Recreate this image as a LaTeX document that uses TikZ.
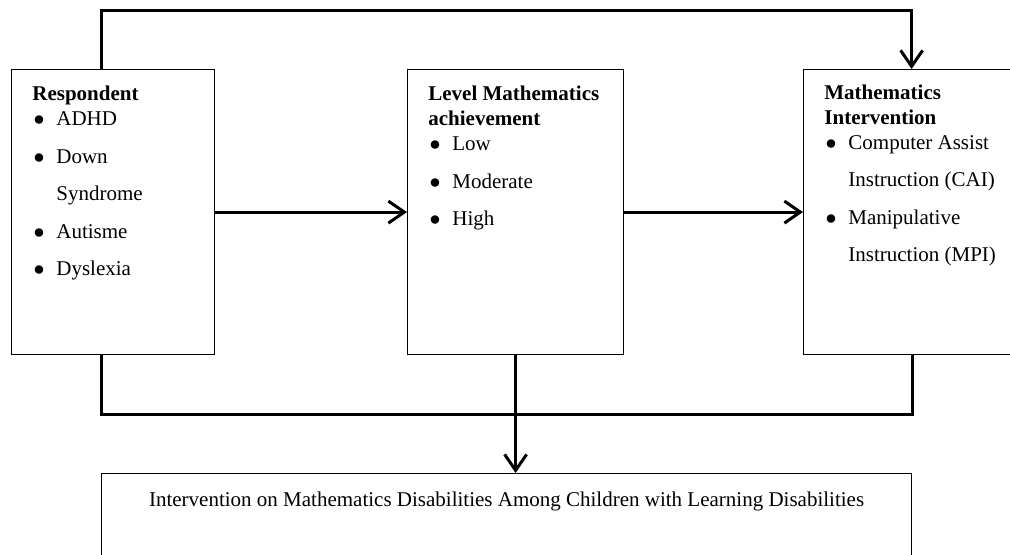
\documentclass[tikz,border=0pt]{standalone}
\usepackage{fontspec}
\setmainfont{Liberation Serif}
\usetikzlibrary{arrows.meta}
\newcommand{\bul}{\makebox[12pt][l]{\hspace{0.6pt}$\bullet$}}

\begin{document}
\begin{tikzpicture}[x=0.5pt, y=-0.5pt,
  box/.style={draw, line width=0.6pt, inner sep=0pt},
  txt/.style={align=left, inner sep=0pt, anchor=north west, xshift=10.5pt, yshift=-8.5pt, font=\fontsize{10.5}{12.5}\selectfont},
  conn/.style={line width=1.5pt},
  arr/.style={conn, -{Straight Barb[length=8pt, width=11pt]}}]
\clip (0,0) rectangle (1010,555);
\node (resp) [box, anchor=north west, minimum width=101.5pt, minimum height=142.5pt] at (11,69) {};
\node (level) [box, anchor=north west, minimum width=108pt, minimum height=142.5pt] at (407,69) {};
\node (mathint) [box, anchor=north west, minimum width=108pt, minimum height=142.5pt] at (803,69) {};
\node (outcome) [box, anchor=north west, minimum width=405pt, minimum height=50pt] at (101,473) {};

\node (resptext) [txt] at (resp.north west) {\textbf{Respondent}\\ \bul ADHD\\[6.25pt] \bul Down\\[6.25pt] \hspace*{12pt}Syndrome\\[6.25pt] \bul Autisme\\[6.25pt] \bul Dyslexia};
\node (leveltext) [txt] at (level.north west) {\textbf{Level Mathematics}\\ \textbf{achievement}\\ \bul Low\\[6.25pt] \bul Moderate\\[6.25pt] \bul High};
\node (mathtext) [txt, yshift=0.75pt] at (mathint.north west) {\textbf{Mathematics}\\ \textbf{Intervention}\\ \bul Computer Assist\\[6.25pt] \hspace*{12pt}Instruction (CAI)\\[6.25pt] \bul Manipulative\\[6.25pt] \hspace*{12pt}Instruction (MPI)};
\node (outtext) [anchor=base, inner sep=0pt, font=\fontsize{10.5}{12.5}\selectfont] at ([yshift=-16.5pt]outcome.north) {Intervention on Mathematics Disabilities Among Children with Learning Disabilities};

\coordinate (topy) at (0,11);
\coordinate (joint) at (0,414);
\draw[arr] (resp) -- (level);
\draw[arr] (level) -- (mathint);
\draw[arr] (resp.north -| outcome.west) -- (topy -| outcome.west) -- (topy -| mathint.north) -- (mathint.north);
\draw[conn] (resp.south -| outcome.west) -- (joint -| outcome.west) -- (joint -| outcome.east) -- (mathint.south -| outcome.east);
\draw[arr] (level.south) -- (level.south |- outcome.north);
\end{tikzpicture}
\end{document}
